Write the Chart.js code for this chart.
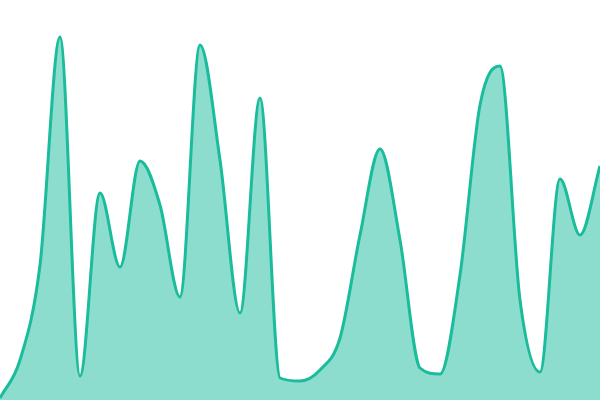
<!DOCTYPE html>
<html>
<head>
<meta charset="utf-8">
<script src="https://cdn.jsdelivr.net/npm/chart.js@4"></script>
<style>
html,body{margin:0;padding:0;background:#fff;}
#wrap{width:600px;height:400px;}
</style>
</head>
<body>
<div id="wrap"><canvas id="c" width="600" height="400"></canvas></div>
<script>
const labels = ["1","2","3","4","5","6","7","8","9","10","11","12","13","14","15","16","17","18","19","20","21","22","23","24","25","26","27","28","29","30","31"];
const values = [2,40,135,363,24,207,133,239,195,103,355,240,87,302,22,19,30,62,165,251,160,32,26,125,295,334,100,28,221,165,234];
const yMin = 0;
const yMax = 400;

new Chart(document.getElementById('c'), {
  type: 'line',
  data: {
    labels: labels,
    datasets: [{
      data: values,
      borderColor: '#1abc9c',
      backgroundColor: 'rgba(26,188,156,0.5)',
      borderWidth: 3,
      fill: 'start',
      pointRadius: 0,
      cubicInterpolationMode: 'monotone'
    }]
  },
  options: {
    responsive: false,
    animation: false,
    layout: { padding: 0 },
    plugins: { legend: { display: false }, tooltip: { enabled: false } },
    scales: {
      x: { display: false, offset: false },
      y: { display: false, min: yMin, max: yMax }
    }
  }
});
</script>
</body>
</html>
